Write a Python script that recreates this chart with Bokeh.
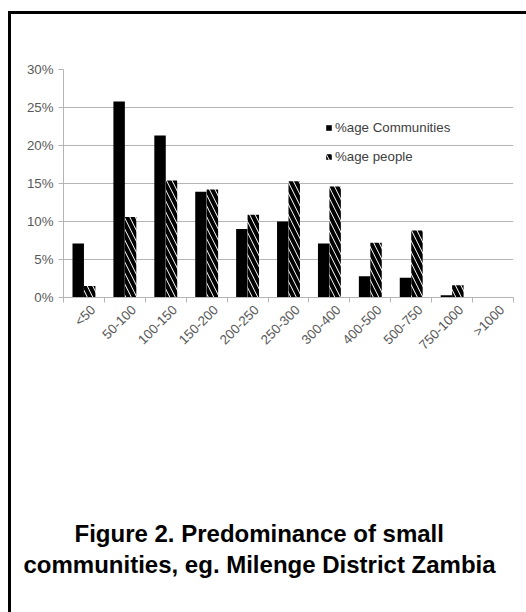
import numpy as np
from bokeh.plotting import figure
from bokeh.models import Range1d, FixedTicker, Legend, LegendItem, Title
from bokeh.embed import file_html
from bokeh.resources import INLINE

# ---- data ----
categories = ["<50", "50-100", "100-150", "150-200", "200-250", "250-300",
              "300-400", "400-500", "500-750", "750-1000", ">1000"]
communities = [7.1, 25.8, 21.3, 13.9, 9.0, 10.0, 7.1, 2.8, 2.6, 0.3, 0.0]
people = [1.5, 10.6, 15.4, 14.2, 10.9, 15.3, 14.6, 7.2, 8.8, 1.6, 0.0]
y_ticks = [0, 5, 10, 15, 20, 25, 30]
y_tick_labels = ["0%", "5%", "10%", "15%", "20%", "25%", "30%"]
series_names = ["%age Communities", "%age people"]
title_lines = ["Figure 2. Predominance of small",
               "communities, eg. Milenge District Zambia"]

FONT = "Liberation Sans"
TXT = "#595959"
GRID = "#b5b5b5"
FS = "13.3px"

n = len(categories)
centers = np.arange(n) + 0.5
bounds = np.arange(n + 1).astype(float)
label_pos = centers + 0.22
bw = 0.28

p = figure(frame_width=450, frame_height=228, output_backend="svg",
           toolbar_location=None,
           x_range=Range1d(0, n), y_range=Range1d(0, 30),
           min_border_left=52, min_border_right=13, min_border_top=55,
           min_border_bottom=315)
p.outline_line_color = None
p.background_fill_color = "white"
p.border_fill_color = "white"
p.styles = {"margin-left": "8px", "margin-top": "11px",
            "border-left": "3px solid black", "border-top": "3px solid black"}

r1 = p.vbar(x=centers - bw / 2, top=communities, width=bw, fill_color="black",
            line_color=None)
r2 = p.vbar(x=centers + bw / 2, top=people, width=bw, fill_color="white",
            line_color=None, hatch_pattern="\\", hatch_color="black",
            hatch_weight=4, hatch_scale=11)

# y axis
p.yaxis.ticker = FixedTicker(ticks=y_ticks)
p.yaxis.major_label_overrides = {t: l for t, l in zip(y_ticks, y_tick_labels)}
p.yaxis.axis_line_color = GRID
p.yaxis.major_tick_line_color = GRID
p.yaxis.major_tick_out = 5
p.yaxis.major_tick_in = 0
p.yaxis.minor_tick_line_color = None
p.yaxis.major_label_text_font = FONT
p.yaxis.major_label_text_font_size = FS
p.yaxis.major_label_text_color = TXT
p.yaxis.major_label_standoff = 5

# x axis
p.xaxis.ticker = FixedTicker(ticks=list(label_pos), minor_ticks=list(bounds))
p.xaxis.major_label_overrides = {float(c): lab for c, lab in zip(label_pos, categories)}
p.xaxis.axis_line_color = GRID
p.xaxis.major_tick_line_color = None
p.xaxis.minor_tick_line_color = GRID
p.xaxis.minor_tick_out = 5
p.xaxis.minor_tick_in = 0
p.xaxis.major_label_orientation = np.pi / 4
p.xaxis.major_label_text_font = FONT
p.xaxis.major_label_text_font_size = FS
p.xaxis.major_label_text_color = TXT
p.xaxis.major_label_standoff = 4

p.xgrid.grid_line_color = None
p.ygrid.ticker = FixedTicker(ticks=y_ticks)
p.ygrid.grid_line_color = GRID

legend = Legend(items=[LegendItem(label=series_names[0], renderers=[r1]),
                       LegendItem(label=series_names[1], renderers=[r2])],
                location=(262, 132), border_line_color=None,
                background_fill_alpha=0, glyph_width=7, glyph_height=7,
                label_height=18, spacing=11, padding=0, margin=0,
                label_standoff=3, label_text_font=FONT,
                label_text_font_size=FS, label_text_color="#404040")
p.add_layout(legend)

spacer = Title(text=" ", text_font_size="1px", standoff=152)
t1 = Title(text=title_lines[0], align="left", offset=11, text_font=FONT,
           text_font_size="24px", text_font_style="bold", text_color="black",
           standoff=4)
t2 = Title(text=title_lines[1], align="left", offset=-40, text_font=FONT,
           text_font_size="24px", text_font_style="bold", text_color="black",
           standoff=0)
p.add_layout(spacer, "below")
p.add_layout(t1, "below")
p.add_layout(t2, "below")

open("out.html", "w").write(file_html(p, INLINE))
